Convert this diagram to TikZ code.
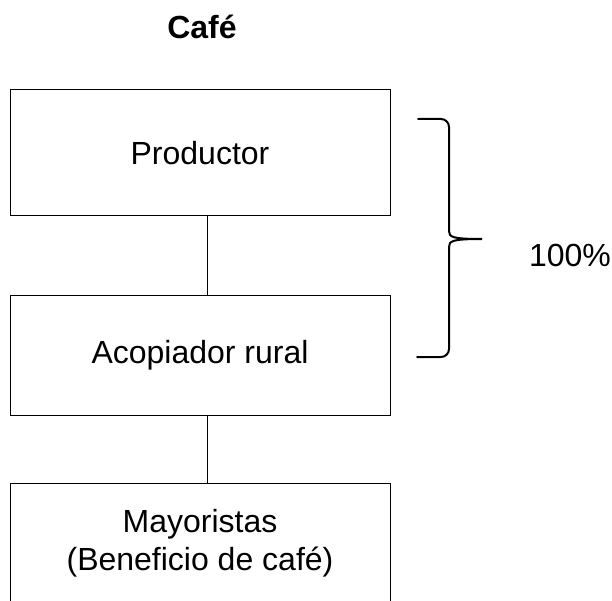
\documentclass[tikz,border=0pt]{standalone}
\usepackage{fontspec}
\setmainfont{Liberation Sans}
\usetikzlibrary{positioning,calc}

\begin{document}
\begin{tikzpicture}[x=1pt, y=-1pt,
    box/.style={rectangle, draw, line width=1pt, outer sep=0pt, minimum width=380pt, text centered, align=center, font=\fontsize{32}{38.4}\selectfont},
    txt/.style={font=\fontsize{32}{38.4}\selectfont},
    heading/.style={font=\fontsize{32}{38.4}\selectfont\bfseries}]
    \useasboundingbox (0,0) rectangle (612,601);
    \clip (0,0) rectangle (612,601);
    \node [heading] (cafe) at (202,27) {Café};
    \node [box, minimum height=126pt] (productor) at (200,153) {Productor};
    \node [box, minimum height=120pt, below=79pt of productor] (acopiador) {Acopiador rural};
    \node [box, minimum height=120pt, below=68pt of acopiador] (mayoristas) {Mayoristas\\(Beneficio de café)};
    \node [txt] (pct) at (570,255) {100\%};
    \draw[line width=1pt] ([xshift=7pt]productor.south) -- ([xshift=7pt]acopiador.north);
    \draw[line width=1pt] ([xshift=7pt]acopiador.south) -- ([xshift=7pt]mayoristas.north);
    % brace round the first two links
    \draw[line width=2pt, line cap=round] (418,119) -- (441,119) to[out=0,in=90] (449,127) -- (449,231)
        .. controls (449,237) and (452,239) .. (482,239)
        .. controls (452,239) and (449,241) .. (449,247) -- (449,349) to[out=-90,in=0] (441,357) -- (417,357);
\end{tikzpicture}
\end{document}
